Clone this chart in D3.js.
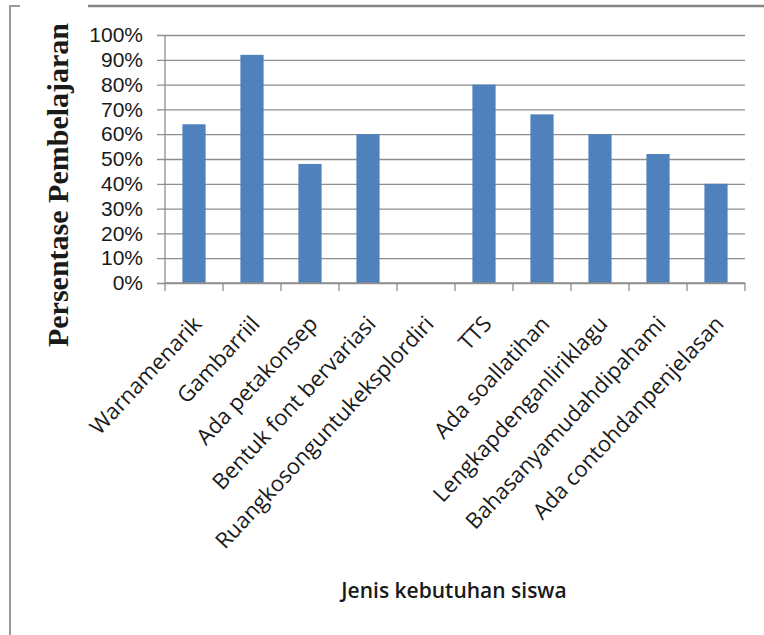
<!DOCTYPE html>
<meta charset='utf-8'>
<style>
	body { margin: 0; background: #fff; }
	#container { width: 764px; height: 635px; }
	text { fill: #1a1a1a; }
</style>
<body>
	<div id='container'>
	</div>
<script src='https://d3js.org/d3.v7.min.js'></script>
<script>
	const categories = [
		'Warnamenarik', 'Gambarriil', 'Ada petakonsep', 'Bentuk font bervariasi',
		'Ruangkosonguntukeksplordiri', 'TTS', 'Ada soallatihan',
		'Lengkapdenganliriklagu', 'Bahasanyamudahdipahami', 'Ada contohdanpenjelasan'
	];
	const values = [0.64, 0.92, 0.48, 0.60, 0, 0.80, 0.68, 0.60, 0.52, 0.40];
	const yTicks = [0, 0.1, 0.2, 0.3, 0.4, 0.5, 0.6, 0.7, 0.8, 0.9, 1.0];

	const yTitle = 'Persentase Pembelajaran',
		xTitle = 'Jenis kebutuhan siswa';

	const W = 764, H = 635;
	const plot = { left: 165, right: 745, top: 35, bottom: 283 };
	const gridColor = '#8e8e8e', barColor = '#4f81bd';

	const svg = d3.select( '#container' )
		.append( 'svg' )
		.attr( 'width', W )
		.attr( 'height', H );

	// frame of the copied figure
	svg.append( 'path' )
		.attr( 'd', `M20,6 H10 V${H}` )
		.attr( 'fill', 'none' )
		.attr( 'stroke', '#9a9a9a' )
		.attr( 'stroke-width', 2 );
	svg.append( 'line' )
		.attr( 'x1', 88 ).attr( 'x2', W )
		.attr( 'y1', 6 ).attr( 'y2', 6 )
		.attr( 'stroke', '#858585' )
		.attr( 'stroke-width', 2.5 );

	const x = d3.scaleBand()
		.domain( categories )
		.range( [plot.left, plot.right] )
		.paddingInner( 0.6 )
		.paddingOuter( 0.3 );

	const y = d3.scaleLinear()
		.domain( [0, 1] )
		.range( [plot.bottom, plot.top] );

	// y axis with ticks stretched into gridlines
	const yAxis = d3.axisLeft( y )
		.tickValues( yTicks )
		.tickFormat( d3.format( '.0%' ) )
		.tickSize( 8 )
		.tickPadding( 14 );

	const yAxisEl = svg.append( 'g' )
		.attr( 'transform', `translate( ${plot.left}, 0 )` )
		.call( yAxis );
	yAxisEl.select( '.domain' ).remove();
	yAxisEl.selectAll( '.tick line' )
		.attr( 'x1', -8 )
		.attr( 'x2', plot.right - plot.left )
		.attr( 'stroke', gridColor )
		.attr( 'stroke-width', 1.3 );
	yAxisEl.selectAll( '.tick text' )
		.attr( 'x', -22 )
		.style( 'font-family', 'Liberation Sans, Arial, sans-serif' )
		.style( 'font-size', '21px' )
		.attr( 'fill', '#1a1a1a' );

	// y axis line
	svg.append( 'line' )
		.attr( 'x1', plot.left ).attr( 'x2', plot.left )
		.attr( 'y1', plot.top ).attr( 'y2', plot.bottom )
		.attr( 'stroke', gridColor )
		.attr( 'stroke-width', 1.3 );

	// bars
	svg.append( 'g' )
		.selectAll( 'rect' )
		.data( categories )
		.join( 'rect' )
			.attr( 'x', d => x( d ) )
			.attr( 'y', ( d, i ) => y( values[i] ) )
			.attr( 'width', x.bandwidth() )
			.attr( 'height', ( d, i ) => y( 0 ) - y( values[i] ) )
			.attr( 'fill', barColor );

	// x axis: boundary ticks
	const bounds = d3.range( categories.length + 1 ).map( i => plot.left + i * x.step() );
	const xAxisEl = svg.append( 'g' );
	xAxisEl.append( 'line' )
		.attr( 'x1', plot.left ).attr( 'x2', plot.right )
		.attr( 'y1', plot.bottom ).attr( 'y2', plot.bottom )
		.attr( 'stroke', gridColor )
		.attr( 'stroke-width', 1.3 );
	xAxisEl.selectAll( 'line.tk' )
		.data( bounds )
		.join( 'line' )
			.attr( 'class', 'tk' )
			.attr( 'x1', d => d ).attr( 'x2', d => d )
			.attr( 'y1', plot.bottom ).attr( 'y2', plot.bottom + 8 )
			.attr( 'stroke', gridColor )
			.attr( 'stroke-width', 1.3 );

	xAxisEl.selectAll( 'text' )
		.data( categories )
		.join( 'text' )
			.attr( 'transform', d => `translate( ${x( d ) + x.bandwidth() / 2 + 9}, ${plot.bottom + 42} ) rotate( -47 )` )
			.attr( 'text-anchor', 'end' )
			.style( 'font-family', 'Open Sans, sans-serif' )
			.style( 'font-size', '22px' )
			.text( d => d );

	// titles
	svg.append( 'text' )
		.attr( 'transform', `translate( 68, 185 ) rotate( -90 )` )
		.attr( 'text-anchor', 'middle' )
		.style( 'font-family', 'Liberation Serif, serif' )
		.style( 'font-weight', 'bold' )
		.style( 'font-size', '30px' )
		.text( yTitle );

	svg.append( 'text' )
		.attr( 'x', 454 )
		.attr( 'y', 598 )
		.attr( 'text-anchor', 'middle' )
		.style( 'font-family', 'Open Sans, sans-serif' )
		.style( 'font-weight', 600 )
		.style( 'font-size', '21px' )
		.text( xTitle );
</script>
</body>
